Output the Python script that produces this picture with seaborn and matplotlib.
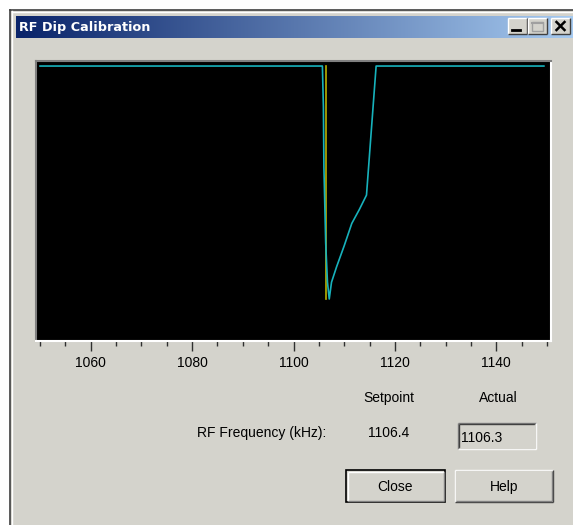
import numpy as np
import pandas as pd
import matplotlib.pyplot as plt
import seaborn as sns
from matplotlib.patches import Rectangle
from matplotlib.ticker import MultipleLocator

# RF dip trace: frequency (kHz) vs detector level (arbitrary units)
freq_khz = [1050.0, 1105.7, 1105.9, 1106.0, 1106.35, 1106.7, 1107.05, 1107.5,
            1108.5, 1110.0, 1111.5, 1113.0, 1114.4, 1116.3, 1149.4]
signal = [98.2, 98.2, 83.6, 62.0, 35.0, 21.0, 15.0, 21.0,
          26.5, 34.0, 42.0, 47.0, 52.1, 98.2, 98.2]

# setpoint marker (vertical line) and readouts
marker_khz = [1106.4, 1106.4]
marker_level = [98.2, 15.0]
setpoint_text = "1106.4"
actual_text = "1106.3"
tick_labels = [1060, 1080, 1100, 1120, 1140]

W, H = 573, 525
GRAY = '#d4d3cc'
FONT = 'Liberation Sans'

fig = plt.figure(figsize=(W / 100, H / 100), dpi=100, facecolor='white')

# window chrome drawn in pixel coordinates
bg = fig.add_axes([0, 0, 1, 1])
bg.set_xlim(0, W)
bg.set_ylim(H, 0)
bg.axis('off')


def box(x0, y0, x1, y1, fc, ec='none', lw=0, z=1):
    bg.add_patch(Rectangle((x0, y0), x1 - x0, y1 - y0, facecolor=fc,
                           edgecolor=ec, linewidth=lw, zorder=z))


def bevel(x0, y0, x1, y1, light, dark, z=3, lw=1.0):
    bg.plot([x0, x1], [y0, y0], color=light, lw=lw, zorder=z, solid_capstyle='butt')
    bg.plot([x0, x0], [y0, y1], color=light, lw=lw, zorder=z, solid_capstyle='butt')
    bg.plot([x0, x1], [y1, y1], color=dark, lw=lw, zorder=z, solid_capstyle='butt')
    bg.plot([x1, x1], [y0, y1], color=dark, lw=lw, zorder=z, solid_capstyle='butt')


# window frame and body
box(10, 10, W + 2, H + 2, GRAY, z=1)
bg.plot([10, 10], [10, H], color='#404040', lw=1.2, zorder=2)
bg.plot([10, W], [10, 10], color='#404040', lw=1.2, zorder=2)
bg.plot([11.5, 11.5], [11, H], color='white', lw=1, zorder=2)
bg.plot([11.5, W], [11.5, 11.5], color='white', lw=1, zorder=2)

# title bar gradient
grad = np.linspace(0, 1, 256).reshape(1, -1)
cmap = sns.blend_palette(['#0a246a', '#a6caf0'], as_cmap=True)
bg.imshow(grad, cmap=cmap, extent=(16, W, 38, 16), aspect='auto', zorder=2)
bg.text(19, 27.5, 'RF Dip Calibration', color='white', fontsize=9.2,
        fontweight='bold', family='DejaVu Sans', va='center', zorder=4)

# caption buttons
for bx0, bx1 in [(508, 527), (528, 547), (551, 570)]:
    box(bx0, 18, bx1, 34, GRAY, z=3)
    bevel(bx0, 18, bx1, 34, 'white', '#404040', z=4)
bg.plot([512, 520], [30, 30], color='black', lw=2, zorder=5)
box(532, 21.5, 543, 30.5, 'none', ec='#a0a0a0', lw=1, z=5)
bg.plot([532, 543], [22.5, 22.5], color='#a0a0a0', lw=1.5, zorder=5)
bg.plot([556.5, 564.5], [22, 30], color='black', lw=1.8, zorder=5)
bg.plot([556.5, 564.5], [30, 22], color='black', lw=1.8, zorder=5)

# plot area
x_px0, x_px1, y_px0, y_px1 = 36, 551, 61, 341
ax = fig.add_axes([x_px0 / W, 1 - y_px1 / H, (x_px1 - x_px0) / W, (y_px1 - y_px0) / H])
ax.set_facecolor('black')

sns.lineplot(x=marker_khz, y=marker_level, ax=ax, color='#b8b000',
             linewidth=1.2, estimator=None, sort=False)
sns.lineplot(x=freq_khz, y=signal, ax=ax, color='#17b2bc',
             linewidth=1.2, estimator=None, sort=False)

ax.set_xlim(1049.2, 1150.8)
ax.set_ylim(0, 100)
ax.set_yticks([])
ax.set_xlabel('')
ax.set_ylabel('')
ax.set_xticks(tick_labels)
ax.xaxis.set_minor_locator(MultipleLocator(5))
ax.tick_params(axis='x', which='major', direction='out', length=7, width=1,
               color='#303030', pad=4, labelsize=10, labelcolor='black')
ax.tick_params(axis='x', which='minor', direction='out', length=3.5, width=1,
               color='#303030')
for lbl in ax.get_xticklabels():
    lbl.set_family(FONT)
for side, col in [('left', '#808080'), ('top', '#808080'),
                  ('right', 'white'), ('bottom', 'white')]:
    ax.spines[side].set_color(col)
    ax.spines[side].set_linewidth(1.5)

# readout labels
txt = dict(fontsize=10, family=FONT, color='black', va='center', zorder=5)
bg.text(389, 398, 'Setpoint', ha='center', **txt)
bg.text(498, 398, 'Actual', ha='center', **txt)
bg.text(197, 433, 'RF Frequency (kHz):', ha='left', **txt)
bg.text(389, 433, setpoint_text, ha='center', **txt)

# read-only edit box
box(458, 423, 536, 449, GRAY, z=3)
bevel(458, 423, 536, 449, '#808080', 'white', z=4)
bevel(459, 424, 535, 448, '#404040', GRAY, z=4)
bg.text(461, 437.5, actual_text, ha='left', **txt)

# buttons
box(346, 470, 445, 502, GRAY, ec='black', lw=1.2, z=3)
bevel(347.5, 471.5, 443.5, 500.5, 'white', '#808080', z=4)
bg.text(395.5, 487, 'Close', ha='center', **txt)

box(455, 470, 553, 502, GRAY, z=3)
bevel(455, 470, 553, 502, 'white', '#404040', z=4)
bevel(456, 471, 552, 501, GRAY, '#808080', z=4)
bg.text(504, 487, 'Help', ha='center', **txt)

fig.savefig('out.png', dpi=100, facecolor='white')
